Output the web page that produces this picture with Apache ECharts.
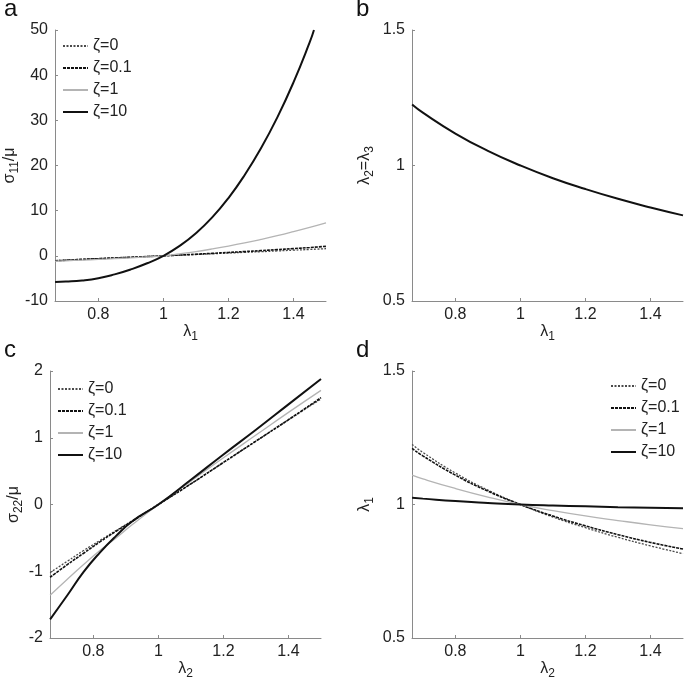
<!DOCTYPE html>
<html><head><meta charset="utf-8">
<script src="https://cdn.jsdelivr.net/npm/echarts@6/dist/echarts.min.js"></script>
<style>html,body{margin:0;padding:0;background:#fff}#c{width:684px;height:681px}</style>
</head><body><div id="c"></div>
<script>
// ---------- data ----------
const seriesNames = ['ζ=0', 'ζ=0.1', 'ζ=1', 'ζ=10'];
const xTicks = [0.8, 1, 1.2, 1.4];

// Panel a: sigma11/mu vs lambda1
const aX = [0.667, 0.7, 0.75, 0.8, 0.85, 0.9, 0.95, 1.0, 1.05, 1.1, 1.15, 1.2, 1.25, 1.3, 1.35, 1.4, 1.45, 1.5];
const aZ0   = [-1.06, -0.94, -0.77, -0.61, -0.45, -0.30, -0.15, 0, 0.15, 0.30, 0.46, 0.61, 0.77, 0.92, 1.08, 1.25, 1.41, 1.58];
const aZ01  = [-1.10, -0.97, -0.79, -0.63, -0.47, -0.31, -0.16, 0, 0.17, 0.35, 0.55, 0.75, 0.95, 1.15, 1.37, 1.60, 1.84, 2.10];
const aZ1   = [-1.20, -1.10, -0.95, -0.80, -0.62, -0.45, -0.24, 0, 0.45, 0.95, 1.52, 2.15, 2.85, 3.62, 4.45, 5.35, 6.30, 7.30];
const aZ10X = [0.667, 0.7, 0.75, 0.8, 0.85, 0.9, 0.95, 1.0, 1.05, 1.1, 1.15, 1.2, 1.25, 1.3, 1.35, 1.4, 1.45, 1.463];
const aZ10  = [-5.8, -5.7, -5.45, -4.95, -4.1, -3.0, -1.65, 0, 2.2, 5.0, 8.5, 12.8, 17.9, 23.8, 30.6, 38.4, 47.3, 50.0];

// Panel b: lambda2 = lambda3 vs lambda1
const bX = [0.667, 0.7, 0.8, 0.9, 1.0, 1.1, 1.2, 1.3, 1.4, 1.5];
const bY = [1.225, 1.195, 1.118, 1.054, 1.0, 0.953, 0.913, 0.877, 0.845, 0.816];

// Panel c: sigma22/mu vs lambda2
const cX = [0.667, 0.72, 0.77, 0.82, 0.87, 0.92, 1.0, 1.1, 1.2, 1.3, 1.4, 1.5];
const cZ0  = [-1.02, -0.85, -0.69, -0.54, -0.39, -0.24, 0, 0.31, 0.63, 0.95, 1.27, 1.58];
const cZ01 = [-1.09, -0.90, -0.73, -0.56, -0.40, -0.25, 0, 0.31, 0.63, 0.95, 1.27, 1.60];
const cZ1  = [-1.36, -1.12, -0.90, -0.69, -0.50, -0.30, 0, 0.35, 0.70, 1.04, 1.38, 1.71];
const cZ10 = [-1.72, -1.36, -1.01, -0.72, -0.47, -0.25, 0, 0.37, 0.75, 1.12, 1.50, 1.88];

// Panel d: lambda1 vs lambda2
const dX = [0.667, 0.7, 0.8, 0.9, 1.0, 1.1, 1.2, 1.3, 1.4, 1.5];
const dZ0  = [1.225, 1.195, 1.118, 1.054, 1.0, 0.953, 0.913, 0.877, 0.845, 0.816];
const dZ01 = [1.210, 1.182, 1.110, 1.050, 1.0, 0.957, 0.920, 0.887, 0.858, 0.833];
const dZ1  = [1.110, 1.096, 1.060, 1.028, 1.0, 0.977, 0.957, 0.940, 0.924, 0.910];
const dZ10 = [1.025, 1.022, 1.013, 1.006, 1.0, 0.996, 0.993, 0.990, 0.988, 0.986];

// ---------- styling ----------
const FONT = 'Liberation Sans, Arial, sans-serif';
const TXT = '#222';
const AX = '#8a8a8a';
const styles = [
  {color: '#4a4a4a', width: 1.3, type: [2, 1.5]},
  {color: '#111111', width: 1.6, type: [3, 1]},
  {color: '#b4b4b4', width: 1.3, type: 'solid'},
  {color: '#111111', width: 2, type: 'solid'}
];
const zip = (xs, ys) => xs.map((x, i) => [x, ys[i]]);

const grids = [
  {left: 55, top: 30, width: 271, height: 271},
  {left: 412, top: 30, width: 271, height: 271},
  {left: 50, top: 371, width: 271, height: 270},
  {left: 412, top: 371, width: 271, height: 270}
];
const rich = {
  n: {fontSize: 16, fontFamily: FONT, color: TXT},
  s: {fontSize: 12, fontFamily: FONT, color: TXT, verticalAlign: 'bottom', padding: [10, 0, 0, 0]}
};
function xAxis(i, name) {
  return {
    type: 'value', gridIndex: i, min: 2 / 3, max: 1.5,
    name: name, nameLocation: 'middle', nameGap: 20,
    nameTextStyle: {rich: rich},
    axisLine: {show: true, onZero: false, lineStyle: {color: AX, width: 1}},
    axisTick: {show: true, inside: true, length: 3, customValues: xTicks, lineStyle: {color: AX}},
    axisLabel: {customValues: xTicks, color: TXT, fontSize: 16, fontFamily: FONT, margin: 6,
      formatter: v => String(+v.toFixed(1))},
    splitLine: {show: false}
  };
}
function yAxis(i, name, min, max, interval, gap) {
  return {
    type: 'value', gridIndex: i, min: min, max: max, interval: interval,
    name: name, nameLocation: 'middle', nameGap: gap, nameRotate: 90,
    nameTextStyle: {rich: rich},
    axisLine: {show: true, onZero: false, lineStyle: {color: AX, width: 1}},
    axisTick: {show: true, inside: true, length: 3, lineStyle: {color: AX}},
    axisLabel: {color: TXT, fontSize: 16, fontFamily: FONT, margin: 7},
    splitLine: {show: false}
  };
}
function line(name, gi, data, k) {
  return {
    type: 'line', name: name, xAxisIndex: gi, yAxisIndex: gi, data: data,
    showSymbol: false, symbol: 'none', smooth: true, lineStyle: styles[k], itemStyle: {color: styles[k].color},
    silent: true, animation: false, z: k === 3 ? 4 : 3
  };
}
function legend(left, top) {
  return {
    orient: 'vertical', left: left, top: top, itemWidth: 25, itemHeight: 14, itemGap: 6,
    padding: 0, data: seriesNames, selectedMode: false,
    itemStyle: {opacity: 0},
    textStyle: {fontSize: 16, fontFamily: FONT, color: TXT}
  };
}

const option = {
  animation: false,
  backgroundColor: '#fff',
  grid: grids,
  xAxis: [
    xAxis(0, '{n|λ}{s|1}'), xAxis(1, '{n|λ}{s|1}'),
    xAxis(2, '{n|λ}{s|2}'), xAxis(3, '{n|λ}{s|2}')
  ],
  yAxis: [
    yAxis(0, '{n|σ}{s|11}{n|/μ}', -10, 50, 10, 26),
    yAxis(1, '{n|λ}{s|2}{n|=λ}{s|3}', 0.5, 1.5, 0.5, 36),
    yAxis(2, '{n|σ}{s|22}{n|/μ}', -2, 2, 1, 22),
    yAxis(3, '{n|λ}{s|1}', 0.5, 1.5, 0.5, 36)
  ],
  legend: [legend(62, 38), legend(57, 381), legend(610, 378)],
  series: [
    line('ζ=0', 0, zip(aX, aZ0), 0),
    line('ζ=0.1', 0, zip(aX, aZ01), 1),
    line('ζ=1', 0, zip(aX, aZ1), 2),
    line('ζ=10', 0, zip(aZ10X, aZ10), 3),
    line('b', 1, zip(bX, bY), 3),
    line('ζ=0', 2, zip(cX, cZ0), 0),
    line('ζ=0.1', 2, zip(cX, cZ01), 1),
    line('ζ=1', 2, zip(cX, cZ1), 2),
    line('ζ=10', 2, zip(cX, cZ10), 3),
    line('ζ=0', 3, zip(dX, dZ0), 0),
    line('ζ=0.1', 3, zip(dX, dZ01), 1),
    line('ζ=1', 3, zip(dX, dZ1), 2),
    line('ζ=10', 3, zip(dX, dZ10), 3)
  ],
  graphic: [
    {type: 'text', left: 4, top: -3, style: {text: 'a', fontSize: 24, fontFamily: FONT, fill: '#111'}},
    {type: 'text', left: 356, top: -3, style: {text: 'b', fontSize: 24, fontFamily: FONT, fill: '#111'}},
    {type: 'text', left: 4, top: 338, style: {text: 'c', fontSize: 24, fontFamily: FONT, fill: '#111'}},
    {type: 'text', left: 356, top: 338, style: {text: 'd', fontSize: 24, fontFamily: FONT, fill: '#111'}}
  ]
};
const chart = echarts.init(document.getElementById('c'), null, {renderer: 'canvas'});
chart.setOption(option);
</script></body></html>
